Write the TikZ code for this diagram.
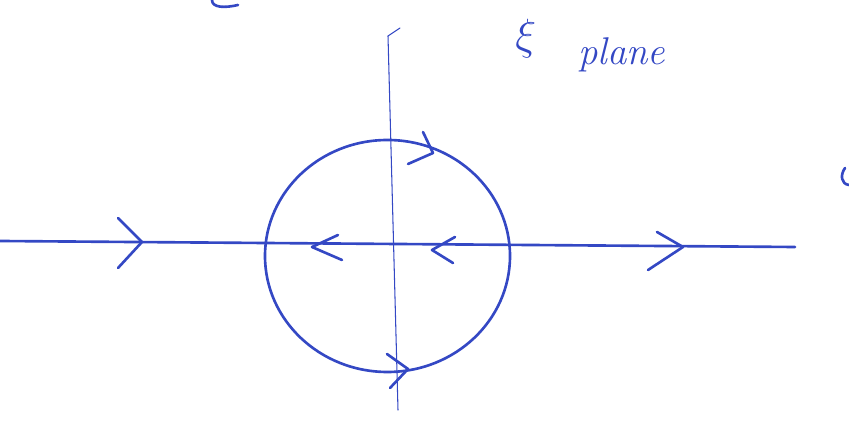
\documentclass[tikz,border=0pt]{standalone}
\usepackage{amsmath,amssymb}
\usepackage{tikz}
\usetikzlibrary{arrows.meta,calc}

\definecolor{ink}{RGB}{52,72,196}
\tikzset{
    pen/.style={ink,line width=1.5pt,line cap=round,line join=round},
    thinpen/.style={ink,line width=0.6pt,line cap=round},
    label/.style={ink,inner sep=0pt,font=\fontsize{22}{26}\selectfont}
}

\begin{document}
\begin{tikzpicture}[x=0.02cm,y=-0.02cm]
    \useasboundingbox (0,0) rectangle (849,428);
    \coordinate (west) at (0,241);
    \coordinate (east) at (795,247);
    \coordinate (north) at (388,36);
    \coordinate (south) at (398,410);
    \coordinate (centre) at (387.5,256);
    % axes and contour
    \draw[pen] (west) -- (east);
    \draw[thinpen] (400,28) -- (north) -- (south);
    \draw[pen] (centre) ellipse [x radius=122.5, y radius=116];
    % hand-drawn arrow heads
    \draw[pen] (118,218) -- (142,242) -- (118,268);
    \draw[pen] (657,232) -- (683,247) -- (648,270);
    \draw[pen] (338,235) -- (312,247) -- (342,260);
    \draw[pen] (455,237) -- (432,250) -- (453,263);
    \draw[pen] (423,132) -- (433,153) -- (408,164);
    \draw[pen] (387,354) -- (408,369) -- (390,388);
    % stray strokes at the edges
    \draw[pen] (212,0) .. controls (212,8) and (225,8) .. (238,5);
    \draw[pen] (845,168) .. controls (840,175) and (841,184) .. (849,185);
    \node[label,anchor=base west,font=\fontsize{28}{32}\selectfont] (xi) at (515,50) {$\xi$};
    \node[label,anchor=base west] (plane) at (578,65) {\textit{plane}};
\end{tikzpicture}
\end{document}
